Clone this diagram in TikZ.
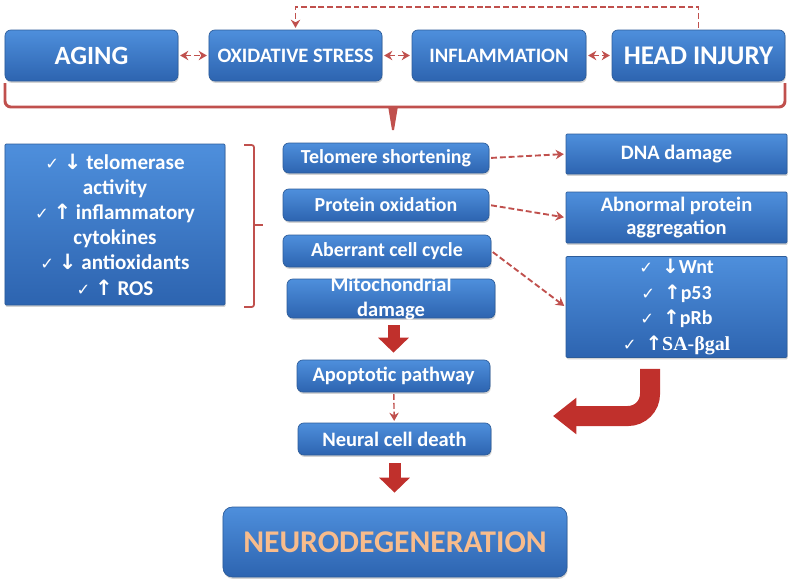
\documentclass[tikz,border=0pt]{standalone}
\usepackage{fontspec}
\setmainfont{Carlito}
\newfontfamily\symfont{DejaVu Sans}
\newfontfamily\serfont{Liberation Serif}
\usetikzlibrary{arrows.meta,calc,shadows}

\definecolor{boxtop}{HTML}{4E8FDC}
\definecolor{boxbot}{HTML}{2D64B0}
\definecolor{boxline}{HTML}{2C5C9A}
\definecolor{linered}{HTML}{C0504D}
\definecolor{arrowred}{HTML}{C0302C}
\definecolor{peach}{HTML}{F8BC8C}

\newcommand{\chk}{{\symfont\mdseries\fontsize{14}{14}\selectfont ✓}}
\newcommand{\uparr}{{\symfont ↑}}
\newcommand{\dnarr}{{\symfont ↓}}
\newcommand{\fsz}[2]{\fontsize{#1}{#2}\selectfont}

\begin{document}
\begin{tikzpicture}[x=0.03cm, y=-0.03cm,
    box/.style={draw=boxline, line width=0.6pt, rounded corners=5pt,
      top color=boxtop, bottom color=boxbot, text=white, align=center,
      inner sep=2pt, font=\bfseries,
      drop shadow={shadow xshift=0.6pt, shadow yshift=-1.6pt, opacity=0.35}},
    sqbox/.style={box, rounded corners=1pt},
    dasharrow/.style={draw=linered, line width=1.6pt, dash pattern=on 5pt off 2.5pt,
      >={Stealth[length=7pt,width=8pt]}, shorten <=1.5pt, shorten >=1.5pt},
    bigarrow/.style={draw=arrowred, line width=0.36cm, -{Triangle[width=0.9cm,length=0.45cm]}},
    curvarrow/.style={draw=arrowred, line width=0.6cm, -{Triangle[width=1.05cm,length=0.7cm]}},
    bracered/.style={draw=linered, line width=2.5pt}]

    \useasboundingbox (0,0) rectangle (793,583);

    % causes
    \node (aging) at (91.5,55.5) [box, minimum width=5.19cm, minimum height=1.53cm, font=\bfseries\fsz{22.5}{26}] {AGING};
    \node (oxi) at (295.5,55.5) [box, minimum width=5.19cm, minimum height=1.53cm, font=\bfseries\fsz{17.5}{20}] {OXIDATIVE STRESS};
    \node (infl) at (499,55.5) [box, minimum width=5.22cm, minimum height=1.53cm, font=\bfseries\fsz{17.5}{20}] {INFLAMMATION};
    \node (head) at (698.5,55.5) [box, minimum width=5.19cm, minimum height=1.53cm, font=\bfseries\fsz{23}{26}] {HEAD INJURY};

    \draw[dasharrow, <->] (aging) -- (oxi);
    \draw[dasharrow, <->] (oxi) -- (infl);
    \draw[dasharrow, <->] (infl) -- (head);
    \draw[dasharrow, ->] (head.north) -- ++(0,-23) -| (oxi.north);

    % brace under the causes
    \draw[bracered, rounded corners=5pt] (5,83) -- (5,107) -- (785,107) -- (785,83);
    \fill[linered] (388,106) -- (398,106) -- (394,130) -- (392,130) -- cycle;

    % effects
    \node (effects) at (115,224.5) [sqbox, minimum width=6.6cm, minimum height=4.83cm, font=\bfseries\fsz{18}{21.5}]
      {\chk\ \dnarr\ telomerase\\ activity\\ \chk\ \uparr\ inflammatory\\ cytokines\\ \chk\ \dnarr\ antioxidants\\ \chk\ \uparr\ ROS};
    \draw[bracered, line width=1.5pt, rounded corners=2pt] (244,145) -- (254,145) -- (254,307) -- (244,307);
    \draw[bracered, line width=1.5pt] (254,225) -- (263,225);

    % mechanisms
    \node (telo) at (386,158) [box, minimum width=6.18cm, minimum height=0.9cm, font=\bfseries\fsz{17}{19}] {Telomere shortening};
    \node (protox) at (386,205) [box, minimum width=6.18cm, minimum height=0.96cm, font=\bfseries\fsz{17}{19}] {Protein oxidation};
    \node (aberr) at (387,251) [box, minimum width=6.24cm, minimum height=0.96cm, font=\bfseries\fsz{17}{19}] {Aberrant cell cycle};
    \node (mito) at (391,298.5) [box, minimum width=6.24cm, minimum height=1.17cm,
      label={[text=white, align=center, font=\bfseries\fsz{17.5}{21}]center:{Mitochondrial\\damage}}] {};

    \node (dna) at (676.5,154) [sqbox, minimum width=6.63cm, minimum height=1.2cm, font=\bfseries\fsz{17.5}{20}] {DNA damage};
    \node (abnorm) at (676.5,217.5) [sqbox, minimum width=6.63cm, minimum height=1.53cm, font=\bfseries\fsz{17.5}{20}] {Abnormal protein\\aggregation};
    \node (markers) at (676.5,307) [sqbox, minimum width=6.63cm, minimum height=3cm, font=\bfseries\fsz{17}{22}]
      {\chk\ \ \dnarr Wnt\\ \chk\ \ \uparr p53\\ \chk\ \ \uparr pRb\\ \chk\ \ \uparr{\serfont SA-βgal}};

    \draw[dasharrow, ->] (telo.east) -- (dna.west);
    \draw[dasharrow, ->] (protox.east) -- (abnorm.west);
    \draw[dasharrow, ->] (aberr.east) -- (markers.west);

    % outcome
    \node (apop) at (393.5,376) [box, minimum width=5.79cm, minimum height=0.96cm, font=\bfseries\fsz{17.5}{19}] {Apoptotic pathway};
    \node (neural) at (394.5,439) [box, minimum width=5.79cm, minimum height=0.96cm, font=\bfseries\fsz{17.5}{19}] {Neural cell death};
    \node (neuro) at (395,542) [box, rounded corners=8pt, minimum width=10.32cm, minimum height=2.1cm, text=peach, font=\bfseries\fsz{27}{30}] {NEURODEGENERATION};

    \draw[bigarrow, shorten <=0.21cm, shorten >=0.21cm] (mito.south -| apop.north) -- (apop.north);
    \draw[dasharrow, ->, line width=1.2pt] (apop) -- (neural);
    \draw[bigarrow, shorten <=0.24cm, shorten >=0.42cm] (neural.south) -- (neural.south |- neuro.north);

    \coordinate (turnend) at (553,416);
    \draw[curvarrow, rounded corners=0.66cm] ($(markers.south)+(-26.5,11)$) |- (turnend);

  \end{tikzpicture}
\end{document}
